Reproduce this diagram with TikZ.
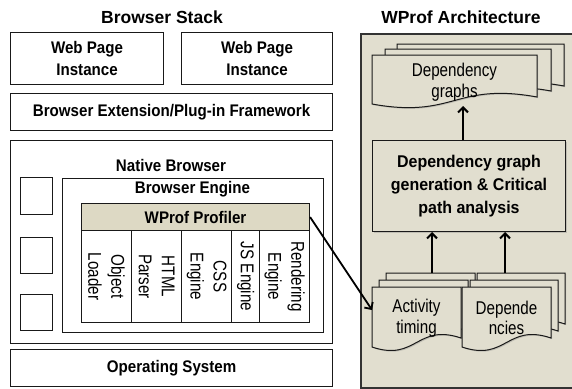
\documentclass[tikz,border=0pt]{standalone}
\usepackage{fontspec}
\setmainfont{Liberation Sans}
\newfontfamily\narrowsf[FakeStretch=0.82]{Liberation Sans}
\newfontfamily\boldnarrow[FakeStretch=0.9]{Liberation Sans}
\newfontfamily\boldwide[FakeStretch=0.94]{Liberation Sans}
\usetikzlibrary{arrows.meta,shadows}

\definecolor{panelbg}{RGB}{225,222,207}
\definecolor{tanbox}{RGB}{221,217,196}
\definecolor{edge}{RGB}{25,25,25}

% document shape: top-left x0,y0; right x1; bottom-left y, bottom-right y
\newcommand\docpath[6][]{%
  \path[docsty,#1] (#2,#3) -- (#4,#3) -- (#4,#6)
    .. controls ({#2+0.5*(#4-#2)},{#6-15}) and ({#2+0.5*(#4-#2)},{#5+15}) .. (#2,#5) -- cycle;}

\tikzset{
  x=1pt, y=-1pt,
  box/.style={draw=edge, line width=1.1pt, fill=white, inner sep=0pt, anchor=north west},
  boldlbl/.style={font=\boldnarrow\fontsize{16.8}{22}\selectfont\bfseries, align=center},
  titlelbl/.style={font=\fontsize{17.5}{20}\selectfont\bfseries, inner sep=0pt},
  collbl/.style={font=\narrowsf\fontsize{18.5}{23}\selectfont, align=center, rotate=-90, inner sep=0pt},
  doclbl/.style={font=\narrowsf\fontsize{18.5}{20.5}\selectfont, align=center, inner sep=0pt},
  docsty/.style={draw=edge, line width=1pt, fill=panelbg,
    drop shadow={shadow xshift=1.2pt, shadow yshift=-1.2pt, opacity=0.35}},
  tanbx/.style={draw=edge, line width=1pt, fill=panelbg, inner sep=0pt, anchor=north west,
    drop shadow={shadow xshift=1.2pt, shadow yshift=-1.2pt, opacity=0.35}},
  upflow/.style={line width=2pt, -{Straight Barb[length=5pt,width=10pt,line width=2pt]}},
}

\begin{document}
\begin{tikzpicture}
\useasboundingbox (0,0) rectangle (572,388);
\fill[white] (0,0) rectangle (572,388);

% ---------------- Browser stack ----------------
\node[titlelbl] (stacktitle) at (162,17) {Browser Stack};

\node[box, minimum width=153pt, minimum height=52pt, boldlbl] (wp1) at (10,32) {Web Page\\Instance};
\node[box, minimum width=151pt, minimum height=52pt, boldlbl] (wp2) at (181,32) {Web Page\\Instance};
\node[box, minimum width=322pt, minimum height=37pt, boldlbl] (ext) at (10,93) {Browser Extension/Plug-in Framework};

\node[box, minimum width=322pt, minimum height=203pt] (native) at (10,140) {};
\node[boldlbl, inner sep=0pt] (nativelbl) at (171,165) {Native Browser};

\node[box, minimum width=32pt, minimum height=37pt] (sq1) at (20,177) {};
\node[box, minimum width=32pt, minimum height=36pt] (sq2) at (20,237) {};
\node[box, minimum width=32pt, minimum height=36pt] (sq3) at (20,294) {};

\node[box, minimum width=261pt, minimum height=154pt] (engine) at (62,178) {};
\node[boldlbl, inner sep=0pt] (enginelbl) at (192.5,189) {Browser Engine};

\node[box, fill=tanbox, minimum width=228pt, minimum height=27pt, boldlbl] (prof) at (81,203) {WProf Profiler};

% engine components
\node[box, minimum width=50pt, minimum height=92pt] (c1) at (81,230) {};
\node[box, minimum width=50pt, minimum height=92pt] (c2) at (131,230) {};
\node[box, minimum width=50pt, minimum height=92pt] (c3) at (181,230) {};
\node[box, minimum width=28pt, minimum height=92pt] (c4) at (231,230) {};
\node[box, minimum width=50pt, minimum height=92pt] (c5) at (259,230) {};
\node[collbl] (c1t) at (c1.center) {Object\\Loader};
\node[collbl] (c2t) at (c2.center) {HTML\\Parser};
\node[collbl] (c3t) at (c3.center) {CSS\\Engine};
\node[collbl] (c4t) at (c4.center) {JS Engine};
\node[collbl] (c5t) at (c5.center) {Rendering\\Engine};

\node[box, minimum width=322pt, minimum height=37pt, boldlbl] (os) at (10,349) {Operating System};

% ---------------- WProf architecture ----------------
\node[titlelbl] (archtitle) at (461,17) {WProf Architecture};
\node[draw=black!80, line width=1.5pt, fill=panelbg, anchor=north west,
      minimum width=220pt, minimum height=354pt] (panel) at (360,33) {};

% output graphs
\docpath{397}{44}{564}{93}{86}
\docpath{385}{49}{551}{98}{91}
\docpath{372}{55}{537}{104}{97}
\node[doclbl] (graphs) at (454.5,82) {Dependency\\graphs};
\coordinate (graphsbot) at (463,106);

% analysis step
\node[tanbx, minimum width=193pt, minimum height=91pt, align=center,
      font=\boldwide\fontsize{17}{23}\selectfont\bfseries] (analysis) at (372,140)
      {Dependency graph\\generation \& Critical\\path analysis};

% input logs
\docpath{386}{273}{475}{333}{324}
\docpath{379}{280}{468}{340}{331}
\docpath{372}{287}{461}{347}{338}
\node[doclbl] (act) at (416.5,318) {Activity\\timing};
\coordinate (actin) at (372,310);

\docpath{477}{273}{565}{333}{324}
\docpath{470}{280}{558}{340}{331}
\docpath{462}{287}{551}{347}{338}
\node[doclbl] (deps) at (506.5,318) {Depende\\ncies};

\coordinate (acttop) at (432,273);
\coordinate (depstop) at (505,273);

% flows
\draw[upflow] (acttop) -- (acttop |- analysis.south);
\draw[upflow] (depstop) -- (depstop |- analysis.south);
\draw[upflow] (analysis.north -| graphsbot) -- (graphsbot);
\draw[line width=1.8pt, -{Straight Barb[length=5pt,width=10pt,line width=1.8pt]}]
  (prof.east) -- (actin);
\end{tikzpicture}
\end{document}
